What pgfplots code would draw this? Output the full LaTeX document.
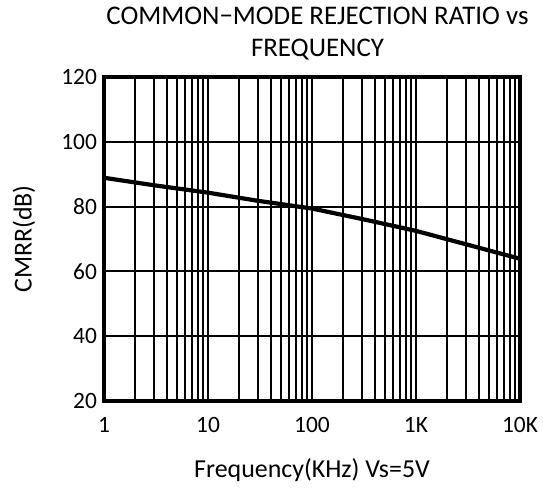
\documentclass[border=0pt]{standalone}
\usepackage{pgfplots}
\pgfplotsset{compat=1.18}
\usepackage{fontspec}
\setmainfont{Carlito}
\begin{document}
\begin{tikzpicture}
\useasboundingbox (-104bp,-90bp) rectangle (439bp,401bp);
\begin{axis}[
  at={(0,0)}, anchor=south west,
  scale only axis, width=416bp, height=324bp,
  xmode=log, log basis x=10,
  xmin=1, xmax=10000, ymin=20, ymax=120,
  ytick={20,40,60,80,100,120},
  xtick={1,10,100,1000,10000},
  xticklabels={1,10,100,1K,10K},
  minor xtick={2,3,4,5,6,7,8,9,20,30,40,50,60,70,80,90,200,300,400,500,600,700,800,900,2000,3000,4000,5000,6000,7000,8000,9000},
  grid=both,
  major grid style={black, line width=2bp},
  minor grid style={black, line width=1.8bp},
  axis line style={line width=4.5bp},
  tick style={draw=none},
  /pgf/number format/assume math mode=true,
  ticklabel style={font=\fontsize{23.5}{28}\selectfont},
  xticklabel style={yshift=-13bp},
  yticklabel style={xshift=-3.5bp},
  xlabel={Frequency(KHz) Vs=5V},
  ylabel={CMRR(dB)},
  label style={font=\fontsize{26}{31}\selectfont},
  xlabel style={at={(axis description cs:0.5,0)}, anchor=base, yshift=-76bp},
  ylabel style={at={(axis description cs:0,0.5)}, anchor=center, yshift=80bp},
]
\addplot[black, line width=4.2bp] coordinates {
(1,88.9) (3,86.6) (10,84.3) (30,81.8) (100,79.4) (300,76.2) (1000,72.5) (3000,68.4) (10000,63.9)
};
\end{axis}
\node[anchor=base, font=\fontsize{27}{32}\selectfont, inner sep=0] at (213.5bp,376bp) {COMMON−MODE REJECTION RATIO vs};
\node[anchor=base, font=\fontsize{27}{32}\selectfont, inner sep=0] at (213.5bp,344bp) {FREQUENCY};
\end{tikzpicture}
\end{document}
